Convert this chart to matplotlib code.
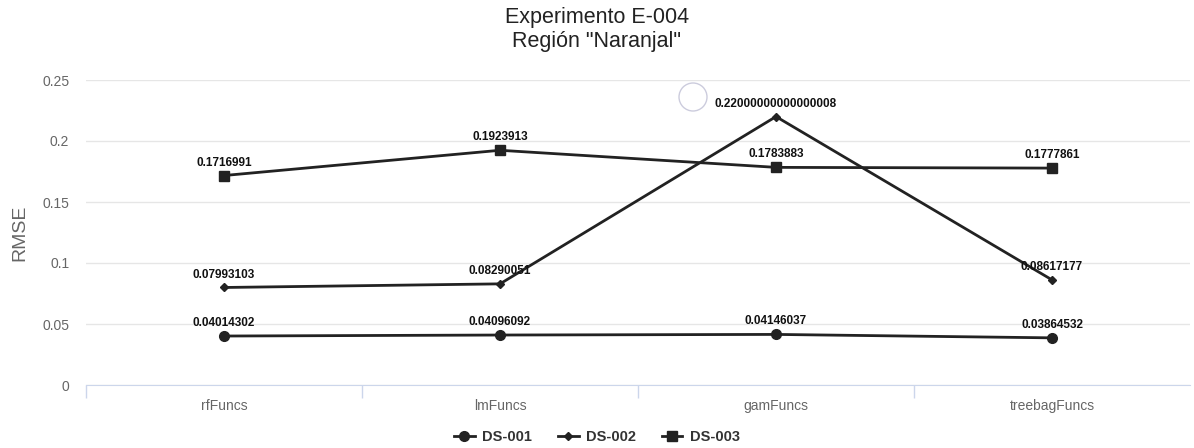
import matplotlib
matplotlib.use("Agg")
import matplotlib.pyplot as plt
import numpy as np

plt.rcParams['font.family'] = ['Liberation Sans', 'DejaVu Sans']

categories = ["rfFuncs", "lmFuncs", "gamFuncs", "treebagFuncs"]
ds001 = [0.04014302, 0.04096092, 0.04146037, 0.03864532]
ds002 = [0.07993103, 0.08290051, 0.22000000000000008, 0.08617177]
ds003 = [0.1716991, 0.1923913, 0.1783883, 0.1777861]
labels001 = ["0.04014302", "0.04096092", "0.04146037", "0.03864532"]
labels002 = ["0.07993103", "0.08290051", "0.22000000000000008", "0.08617177"]
labels003 = ["0.1716991", "0.1923913", "0.1783883", "0.1777861"]
yticks = [0, 0.05, 0.1, 0.15, 0.2, 0.25]
ytick_labels = ["0", "0.05", "0.1", "0.15", "0.2", "0.25"]

fig = plt.figure(figsize=(11.94, 4.48), dpi=100)
ax = fig.add_axes([86/1194, 1-385/448, (1190-86)/1194, (385-80)/448])

x = np.arange(len(categories))
col = "#222222"
series = [("DS-001", ds001, labels001, "o", 7),
          ("DS-002", ds002, labels002, "D", 4.5),
          ("DS-003", ds003, labels003, "s", 6.5)]
for name, vals, labs, mk, ms in series:
    ax.plot(x, vals, color=col, lw=2, marker=mk, markersize=ms, label=name, zorder=3)
    for xi, v, l in zip(x, vals, labs):
        ax.annotate(l, (xi, v), xytext=(0, 5), textcoords="offset points",
                    ha="center", va="bottom", fontsize=8.5, fontweight="bold", color="#111111")

ax.set_xlim(-0.5, len(categories) - 0.5)
ax.set_ylim(0, 0.25)
ax.set_yticks(yticks)
ax.set_yticklabels(ytick_labels)
ax.set_xticks(x)
ax.set_xticklabels(categories)
ax.set_xticks(np.arange(len(categories)) - 0.5, minor=True)
ax.tick_params(axis="x", which="major", length=0, colors="#666666", labelsize=10, pad=10)
ax.tick_params(axis="x", which="minor", length=9, color="#ccd6eb", width=1)
ax.tick_params(axis="y", length=0, colors="#666666", labelsize=10, pad=12)
ax.grid(axis="y", color="#e6e6e6", lw=1, zorder=0)
for s in ["top", "right", "left"]:
    ax.spines[s].set_visible(False)
ax.spines["bottom"].set_color("#ccd6eb")
ax.set_ylabel("RMSE", color="#666666", fontsize=14)
ax.yaxis.set_label_coords(-0.052, 0.5)

fig.text(0.5, 1-18/448, "Experimento E-004", ha="center", va="center", fontsize=15.5, color="#222222")
fig.text(0.5, 1-42/448, 'Región "Naranjal"', ha="center", va="center", fontsize=15.5, color="#222222")

# hover circle artifact
fig.add_artist(matplotlib.patches.Ellipse((693/1194, 1-97/448), 28/1194, 28/448,
               transform=fig.transFigure, fill=False, edgecolor="#ccccdd", lw=1))

leg = fig.legend(loc="center", bbox_to_anchor=(0.5, 1-437/448), ncol=3, frameon=False,
                 prop={"weight": "bold", "size": 10.5}, handlelength=1.4, columnspacing=1.8,
                 handletextpad=0.5)
for t in leg.get_texts():
    t.set_color("#333333")

fig.savefig("out.png", dpi=100)
